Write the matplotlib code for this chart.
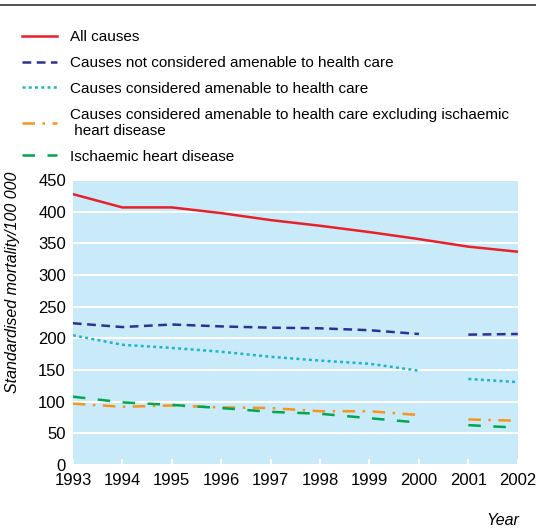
import matplotlib
matplotlib.use("Agg")
import matplotlib.pyplot as plt
from matplotlib.lines import Line2D
import numpy as np

plt.rcParams['font.family'] = ['Liberation Sans Narrow', 'Liberation Sans', 'DejaVu Sans']

years = [1993, 1994, 1995, 1996, 1997, 1998, 1999, 2000, 2001, 2002]
all_causes = [428, 407, 407, 398, 387, 378, 368, 357, 345, 337]
not_amenable = [224, 218, 222, 219, 217, 216, 213, 207, 206, 207]
amenable = [205, 190, 185, 179, 171, 165, 160, 149, 136, 131]
amenable_ex_ihd = [97, 92, 94, 91, 90, 85, 85, 79, 72, 70]
ihd = [108, 99, 95, 90, 84, 81, 74, 67, 63, 59]
# series with a break between 2000 and 2001
break_idx = 8

fig = plt.figure(figsize=(5.36, 5.30), dpi=100)
ax = fig.add_axes([0.136, 0.1226, 0.830, 0.5374])
ax.set_facecolor('#c9eaf9')

red = '#e8202a'
navy = '#2e3192'
cyan = '#1fb5c9'
orange = '#f7941d'
green = '#00a651'

ax.plot(years, all_causes, color=red, lw=1.8, label='All causes')

series = [
    (not_amenable, dict(color=navy, lw=1.8, ls=(0, (3.5, 2.2))), 'Causes not considered amenable to health care'),
    (amenable, dict(color=cyan, lw=1.8, ls=(0, (1.2, 1.3))), 'Causes considered amenable to health care'),
    (amenable_ex_ihd, dict(color=orange, lw=1.8, ls=(0, (5, 3, 1, 3))),
     'Causes considered amenable to health care excluding ischaemic\n heart disease'),
    (ihd, dict(color=green, lw=1.8, ls=(0, (5, 5))), 'Ischaemic heart disease'),
]
for vals, style, lab in series:
    ax.plot(years[:break_idx], vals[:break_idx], label=lab, **style)
    ax.plot(years[break_idx:], vals[break_idx:], **style)

ax.set_xlim(1993, 2002)
ax.set_ylim(0, 450)
ax.set_yticks(np.arange(0, 451, 50))
ax.set_xticks(years)
ax.grid(axis='y', color='white', lw=1.5)
ax.set_axisbelow(True)
for s in ax.spines.values():
    s.set_visible(False)
ax.tick_params(axis='y', length=0, labelsize=12, pad=5)
ax.tick_params(axis='x', direction='in', color='white', width=1.5, length=4, labelsize=12, pad=6)
ax.set_ylabel('Standardised mortality/100 000', style='italic', fontsize=11.5, labelpad=10)
ax.yaxis.set_label_coords(-0.119, 0.64)
fig.text(0.968, 0.004, 'Year', style='italic', fontsize=11.5, ha='right', va='bottom')

handles, labels = ax.get_legend_handles_labels()
fig.legend(handles, labels, loc='upper left', bbox_to_anchor=(0.03, 0.955),
           frameon=False, fontsize=11, handlelength=2.3, handletextpad=0.85,
           labelspacing=0.78, borderaxespad=0)

fig.add_artist(Line2D([0, 1], [0.99, 0.99], color='#333333', lw=1.2, transform=fig.transFigure))

fig.savefig('out.png', dpi=100)
